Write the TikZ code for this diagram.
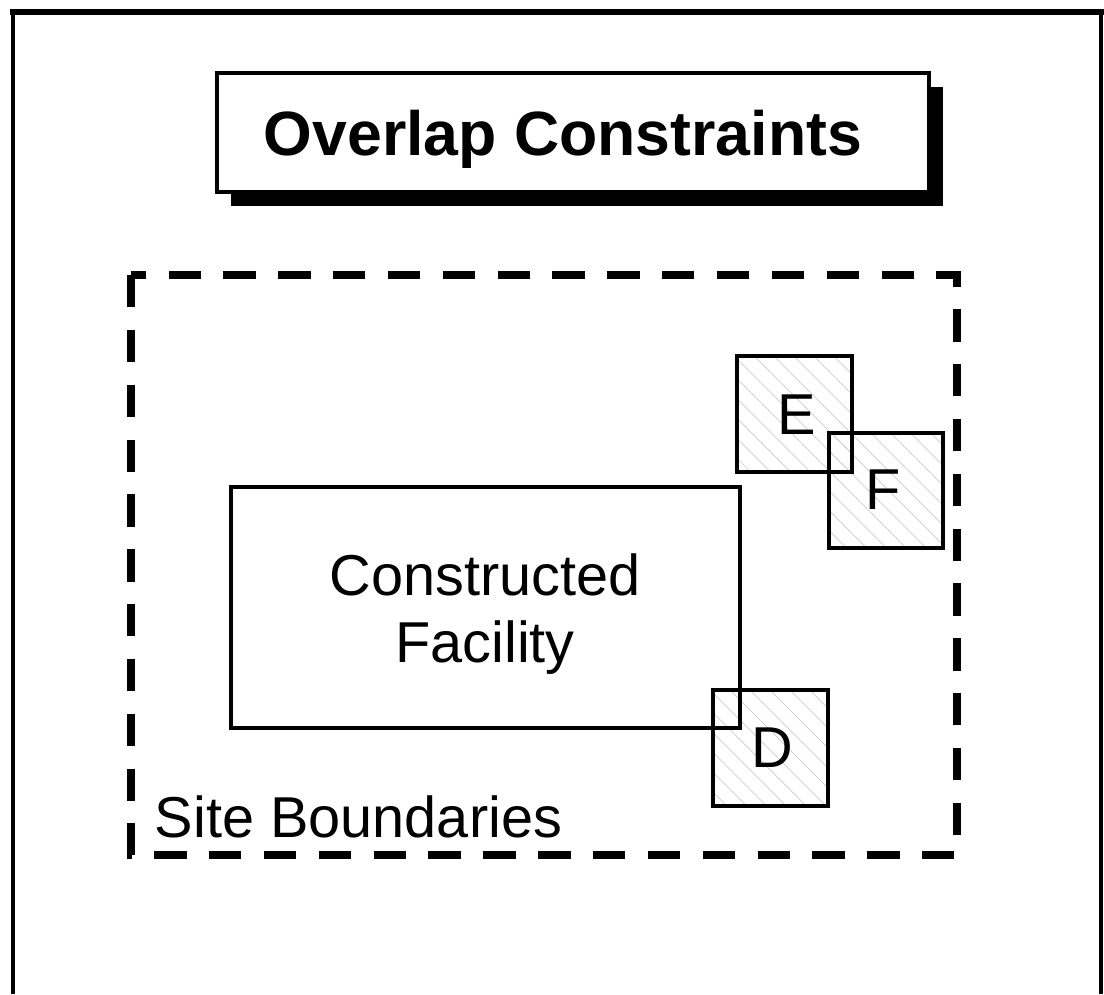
\documentclass[tikz,border=0pt]{standalone}
\usepackage{fontspec}
\setmainfont{Liberation Sans}
\usetikzlibrary{patterns.meta}
\tikzset{olap/.style={x=0.025cm,y=-0.025cm},
  lbl/.style={font=\fontsize{41}{47.5}\selectfont},
  zone/.style={line width=3.5pt,pattern={Lines[angle=-45,distance=10pt,line width=0.5pt]},pattern color=gray!40}}

\begin{document}
\begin{tikzpicture}[olap]
    \useasboundingbox (0,0) rectangle (1104,994);
    % frame
    \draw[line width=4pt] (10,12) -- (1104,12);
    \draw[line width=2.2pt] (13,12) -- (13,994);
    \draw[line width=2.2pt] (1101,12) -- (1101,994);
    % title with shadow
    \fill[black] (231,87) rectangle (943,206);
    \draw[line width=3.5pt,fill=white] (217,73) rectangle (929,192);
    \node[font=\fontsize{44.5}{50}\selectfont\bfseries,anchor=base] (title) at (563,155) {Overlap Constraints};
    % site
    \draw[line width=6pt,dash pattern=on 23pt off 16pt] (131,275) rectangle (957,855);
    \node[lbl,anchor=base west] (site) at (150,837) {Site Boundaries};
    % squares
    \fill[white] (737,356) rectangle (852,472);
    \fill[white] (829,433) rectangle (943,548);
    \fill[white] (713,690) rectangle (828,806);
    \path[zone] (737,356) rectangle (852,472);
    \path[zone] (829,433) rectangle (943,548);
    \path[zone] (713,690) rectangle (828,806);
    \draw[line width=3.5pt] (737,356) rectangle (852,472);
    \draw[line width=3.5pt] (829,433) rectangle (943,548);
    \draw[line width=3.5pt] (713,690) rectangle (828,806);
    \node[lbl] (e) at (797,415) {E};
    \node[lbl] (f) at (883,490) {F};
    \node[lbl] (d) at (772,748) {D};
    % facility
    \draw[line width=2.8pt] (231,487) rectangle (740,728);
    \node[lbl,align=center] (fac) at (485,614) {Constructed\\Facility};
\end{tikzpicture}
\end{document}
